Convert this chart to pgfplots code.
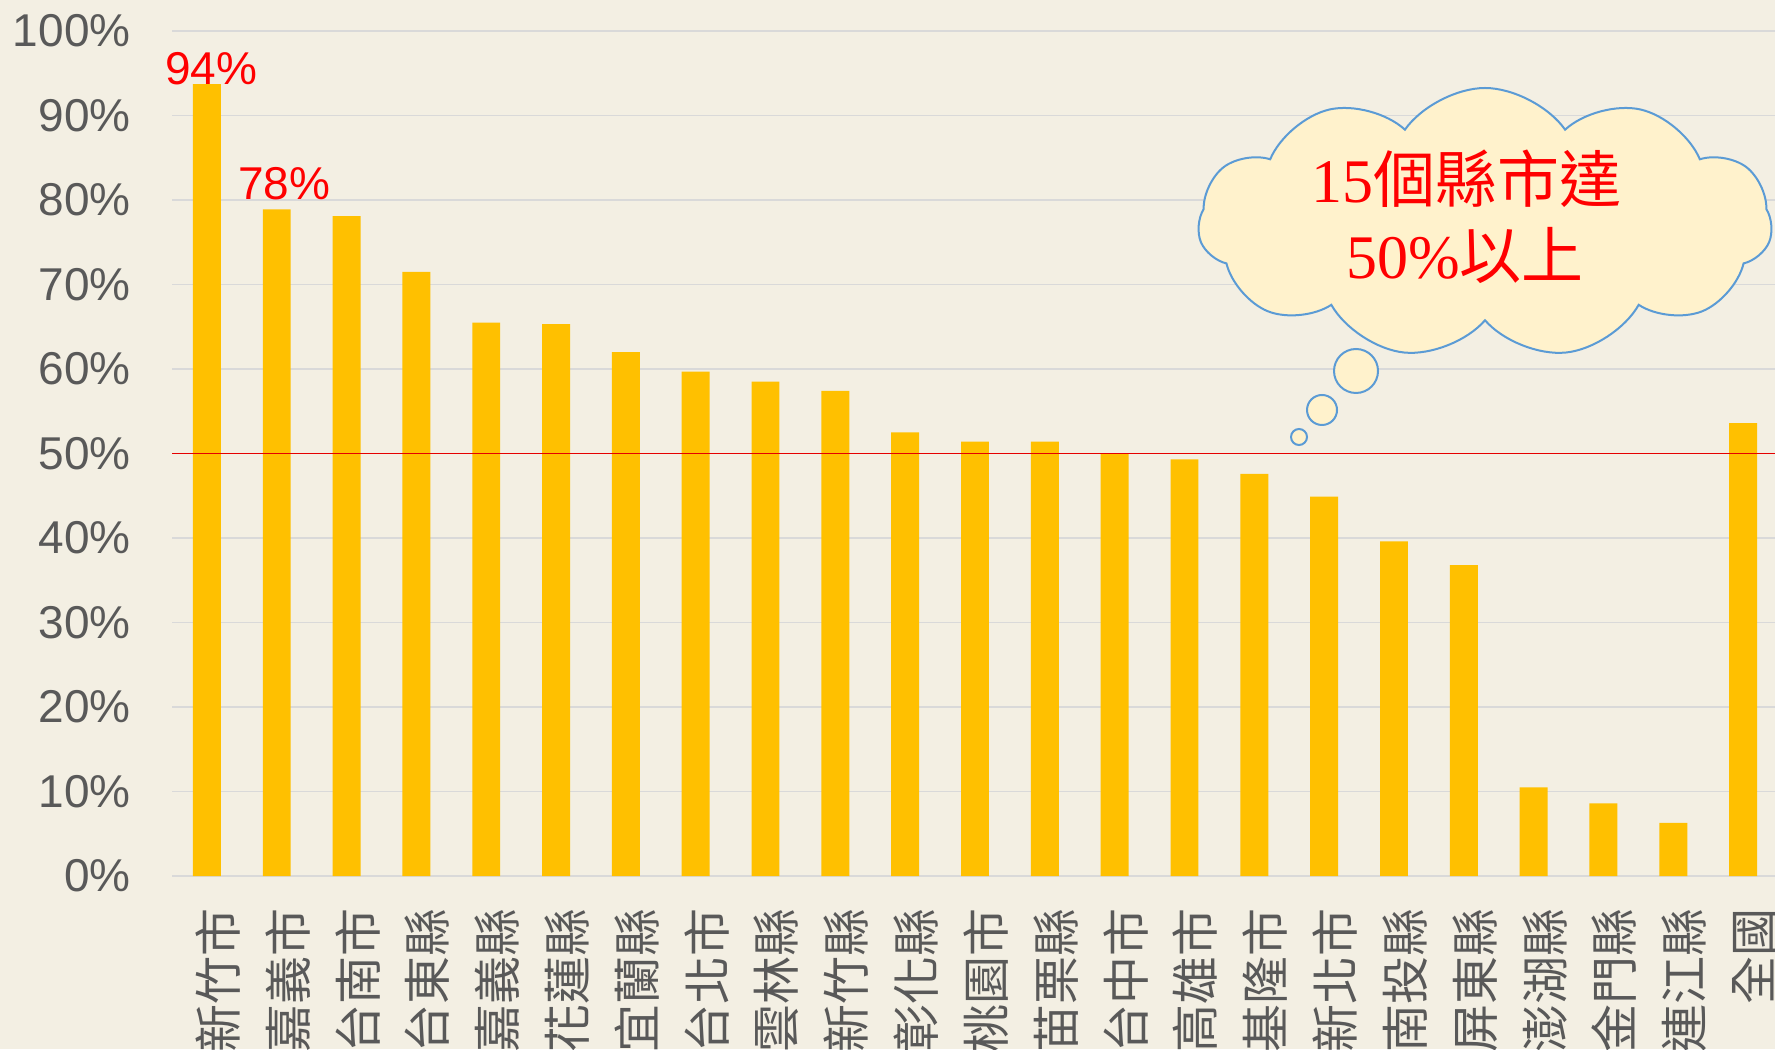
\documentclass[border=0pt]{standalone}
\usepackage{pgfplots}
\pgfplotsset{compat=1.18}
\usepackage{pgfplotstable}
\usepackage{fontspec}
\setmainfont{Liberation Sans}
\newfontfamily\cjk{Noto Sans CJK TC}
\newfontfamily\tnr{Liberation Serif}
\usetikzlibrary{shapes.symbols}
\definecolor{bgc}{HTML}{F3EFE3}
\definecolor{barc}{HTML}{FFC000}
\definecolor{gridc}{HTML}{D9D9D9}
\definecolor{txtc}{HTML}{595959}
\definecolor{cloudline}{HTML}{5B9BD5}
\definecolor{cloudfill}{HTML}{FFF2CC}
\pgfplotstableread{
x y
0 93.7
1 78.9
2 78.1
3 71.5
4 65.5
5 65.3
6 62.0
7 59.7
8 58.5
9 57.4
10 52.5
11 51.4
12 51.4
13 50.0
14 49.3
15 47.6
16 44.9
17 39.6
18 36.8
19 10.5
20 8.6
21 6.3
22 53.6
}\datatable
\begin{document}
\begin{tikzpicture}
\useasboundingbox (0pt,0pt) rectangle (887.5pt,524.5pt);
\clip (0pt,0pt) rectangle (887.5pt,524.5pt);
\fill[bgc] (0pt,0pt) rectangle (887.5pt,524.5pt);
\begin{axis}[
  at={(86pt,86.5pt)}, anchor=south west,
  scale only axis, width=803pt, height=422.5pt,
  xmin=-0.5, xmax=22.5, ymin=0, ymax=100,
  clip=false,
  axis line style={draw=none},
  major tick length=0pt,
  ymajorgrids, grid style={draw=gridc, line width=0.75pt},
  ytick={0,10,...,100},
  yticklabels={0\%,10\%,20\%,30\%,40\%,50\%,60\%,70\%,80\%,90\%,100\%},
  yticklabel style={anchor=east, inner sep=0pt, xshift=-20.5pt, text=txtc, font=\fontsize{23}{23}\selectfont},
  xtick={0,...,22},
  xticklabels={新竹市,嘉義市,台南市,台東縣,嘉義縣,花蓮縣,宜蘭縣,台北市,雲林縣,新竹縣,彰化縣,桃園市,苗栗縣,台中市,高雄市,基隆市,新北市,南投縣,屏東縣,澎湖縣,金門縣,連江縣,全國},
  xticklabel style={yshift=-16pt, xshift=5.5pt, rotate=90, anchor=east, inner sep=0pt, text=txtc, font=\cjk\fontsize{24}{24}\selectfont},
]
\addplot[ybar, bar width=0.4, fill=barc, draw=none] table[x=x,y=y]{\datatable};
\draw[red!90!black, line width=0.9pt] (axis cs:-0.5,50) -- (axis cs:22.5,50);
\node[anchor=base, text=red, inner sep=0pt, font=\fontsize{23}{23}\selectfont] at (axis cs:0.06,93.7) {94\%};
\node[anchor=base, text=red, inner sep=0pt, font=\fontsize{23}{23}\selectfont] at (axis cs:1.11,80.1) {78\%};
\end{axis}
\begin{scope}[x=0.5pt,y=0.5pt]
\node[cloud, cloud puffs=11, cloud puff arc=110, aspect=2.15, minimum width=287pt, minimum height=135pt, draw=cloudline, fill=cloudfill, line width=1pt] at (1485,826) {};
\draw[cloudline, fill=cloudfill, line width=1pt] (1356,678) circle (22);
\draw[cloudline, fill=cloudfill, line width=1pt] (1322,639) circle (15);
\draw[cloudline, fill=cloudfill, line width=1pt] (1299,612) circle (8);
\node[anchor=base, text=red, inner sep=0pt, font=\fontsize{31}{31}\selectfont] at (1466,846) {{\tnr 15}{\cjk 個縣市達}};
\node[anchor=base, text=red, inner sep=0pt, font=\fontsize{31}{31}\selectfont] at (1465,770) {{\tnr 50\%}{\cjk 以上}};
\end{scope}
\end{tikzpicture}
\end{document}
